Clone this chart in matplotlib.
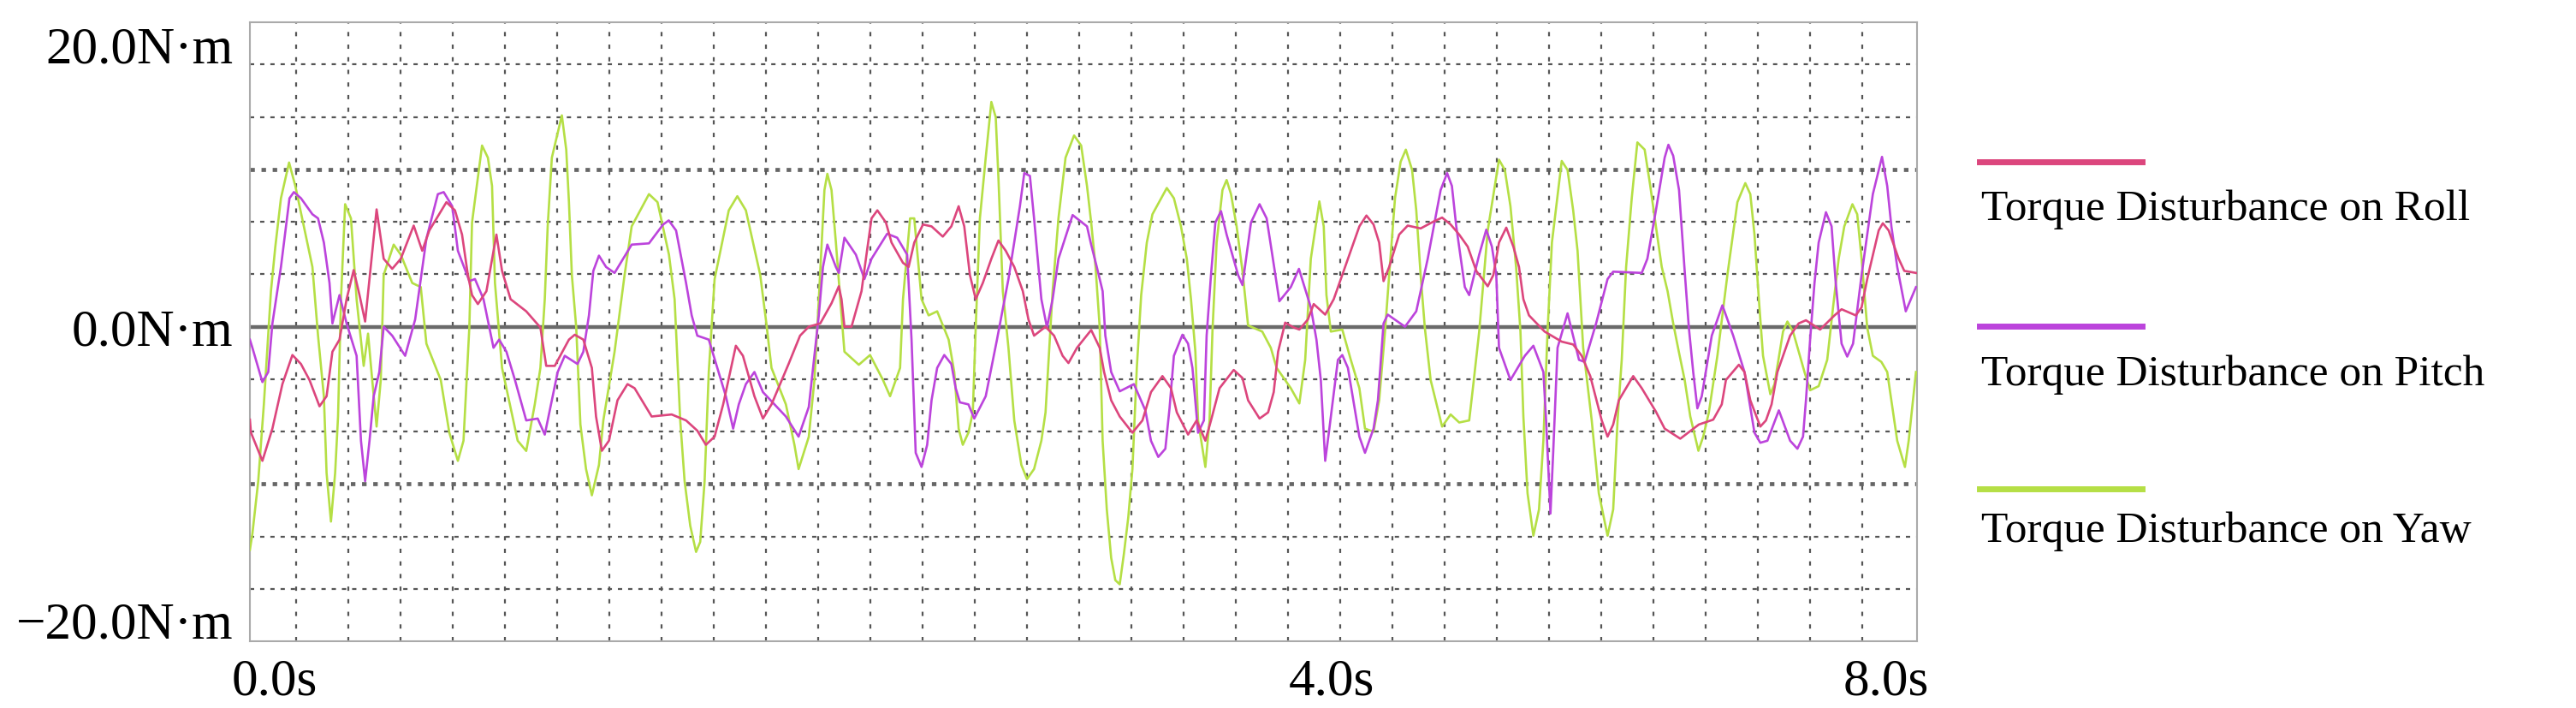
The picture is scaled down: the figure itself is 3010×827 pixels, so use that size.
import numpy as np
import matplotlib.pyplot as plt
from matplotlib.lines import Line2D

plt.rcParams['font.family'] = ['Liberation Serif', 'DejaVu Serif']
plt.rcParams['lines.scale_dashes'] = False

# values (t in s, torque in N*m)
t_roll = [0.0, 0.005, 0.060, 0.108, 0.156, 0.204, 0.245, 0.286, 0.334, 0.368, 0.396, 0.430, 0.464, 0.498,
          0.526, 0.553, 0.574, 0.608, 0.642, 0.683, 0.724, 0.786, 0.827, 0.861, 0.943, 0.984, 1.018, 1.046,
          1.066, 1.094, 1.135, 1.183, 1.210, 1.251, 1.326, 1.394, 1.422, 1.463, 1.531, 1.559, 1.600, 1.641,
          1.661, 1.689, 1.723, 1.764, 1.812, 1.846, 1.928, 2.024, 2.093, 2.147, 2.188, 2.230, 2.271, 2.332,
          2.366, 2.421, 2.462, 2.503, 2.585, 2.640, 2.682, 2.737, 2.791, 2.826, 2.839, 2.853, 2.887, 2.935,
          2.956, 2.983, 3.011, 3.052, 3.079, 3.134, 3.161, 3.188, 3.230, 3.271, 3.325, 3.366, 3.401, 3.428,
          3.455, 3.483, 3.517, 3.558, 3.592, 3.627, 3.668, 3.709, 3.736, 3.763, 3.818, 3.859, 3.900, 3.928,
          3.969, 4.037, 4.078, 4.099, 4.133, 4.174, 4.235, 4.283, 4.324, 4.379, 4.420, 4.448, 4.502, 4.543,
          4.585, 4.612, 4.653, 4.721, 4.763, 4.790, 4.845, 4.886, 4.913, 4.934, 4.968, 5.009, 5.036, 5.077,
          5.105, 5.160, 5.201, 5.242, 5.283, 5.324, 5.358, 5.392, 5.419, 5.440, 5.467, 5.515, 5.556, 5.618,
          5.679, 5.721, 5.762, 5.803, 5.844, 5.885, 5.940, 5.967, 5.994, 6.029, 6.063, 6.090, 6.111, 6.138,
          6.213, 6.295, 6.350, 6.391, 6.432, 6.487, 6.515, 6.542, 6.569, 6.638, 6.679, 6.747, 6.789, 6.864,
          6.953, 7.022, 7.063, 7.083, 7.145, 7.172, 7.200, 7.248, 7.275, 7.302, 7.330, 7.391, 7.432, 7.467,
          7.535, 7.604, 7.638, 7.706, 7.734, 7.761, 7.816, 7.836, 7.864, 7.912, 7.939, 7.995]
roll = [-5.91, -6.73, -8.53, -6.48, -3.65, -1.80, -2.37, -3.39, -5.06, -4.42, -1.59, -0.82, 1.75, 3.60,
        2.01, 0.33, 3.03, 7.46, 4.32, 3.68, 4.32, 6.43, 4.83, 6.12, 7.92, 7.40, 5.86, 3.29,
        2.01, 1.44, 2.26, 5.86, 3.55, 1.75, 0.98, -0.05, -2.49, -2.49, -0.82, -0.51, -0.82, -2.62,
        -5.71, -7.89, -7.25, -4.68, -3.65, -3.91, -5.71, -5.58, -5.96, -6.61, -7.51, -6.99, -4.94, -1.21,
        -1.85, -4.42, -5.84, -4.94, -2.37, -0.57, 0.0, 0.21, 1.49, 2.57, 1.75, 0.0, 0.0, 2.26,
        4.32, 6.89, 7.40, 6.63, 5.35, 4.06, 3.80, 5.35, 6.50, 6.38, 5.73, 6.38, 7.66, 6.38,
        3.29, 1.75, 2.78, 4.32, 5.48, 4.83, 3.80, 2.26, 0.46, -0.57, 0.0, -0.57, -1.85, -2.31,
        -1.34, -0.21, -1.34, -2.88, -4.68, -5.71, -6.74, -5.96, -4.16, -3.14, -3.91, -5.45, -6.86, -5.96,
        -7.25, -5.96, -3.91, -2.75, -3.26, -4.68, -5.84, -5.45, -4.16, -1.59, 0.26, -0.05, -0.18, 0.46,
        1.44, 0.77, 1.75, 3.29, 4.83, 6.38, 7.07, 6.50, 5.35, 2.90, 3.80, 5.86, 6.43, 6.25,
        6.68, 6.94, 6.50, 5.86, 5.09, 3.55, 2.57, 3.29, 5.35, 6.30, 5.09, 3.80, 1.75, 0.72,
        -0.31, -0.95, -1.13, -1.85, -3.14, -5.96, -6.99, -6.22, -4.68, -3.14, -3.91, -5.40, -6.48, -7.12,
        -6.22, -5.91, -4.94, -3.39, -2.42, -2.88, -4.68, -6.35, -5.96, -4.94, -2.88, -0.57, 0.21, 0.41,
        -0.18, 0.72, 1.11, 0.72, 1.23, 3.03, 6.12, 6.58, 6.12, 4.32, 3.55, 3.42]

t_pitch = [0.0, 0.012, 0.060, 0.088, 0.108, 0.149, 0.190, 0.211, 0.245, 0.300, 0.327, 0.355, 0.382, 0.396,
           0.430, 0.464, 0.512, 0.533, 0.553, 0.574, 0.594, 0.621, 0.642, 0.683, 0.745, 0.793, 0.847, 0.902,
           0.930, 0.971, 0.998, 1.053, 1.080, 1.121, 1.169, 1.196, 1.231, 1.272, 1.326, 1.381, 1.415, 1.449,
           1.477, 1.511, 1.572, 1.600, 1.627, 1.648, 1.675, 1.709, 1.750, 1.832, 1.915, 1.983, 2.010, 2.045,
           2.093, 2.120, 2.147, 2.202, 2.284, 2.319, 2.346, 2.380, 2.421, 2.462, 2.572, 2.633, 2.682, 2.696,
           2.730, 2.750, 2.771, 2.812, 2.826, 2.853, 2.908, 2.949, 2.983, 3.058, 3.106, 3.154, 3.175, 3.195,
           3.223, 3.250, 3.271, 3.298, 3.332, 3.366, 3.387, 3.407, 3.448, 3.476, 3.531, 3.585, 3.640, 3.695,
           3.716, 3.743, 3.763, 3.798, 3.825, 3.852, 3.880, 3.948, 4.017, 4.037, 4.064, 4.092, 4.105, 4.133,
           4.174, 4.242, 4.297, 4.324, 4.359, 4.393, 4.413, 4.434, 4.475, 4.502, 4.523, 4.550, 4.578, 4.591,
           4.612, 4.633, 4.660, 4.687, 4.742, 4.763, 4.783, 4.804, 4.845, 4.879, 4.906, 4.940, 4.995, 5.034,
           5.091, 5.118, 5.139, 5.160, 5.180, 5.221, 5.242, 5.269, 5.324, 5.351, 5.392, 5.413, 5.440, 5.460,
           5.543, 5.597, 5.652, 5.714, 5.745, 5.768, 5.789, 5.830, 5.851, 5.899, 5.933, 5.960, 5.981, 5.994,
           6.049, 6.118, 6.159, 6.207, 6.220, 6.241, 6.254, 6.275, 6.323, 6.378, 6.405, 6.460, 6.515, 6.542,
           6.679, 6.706, 6.747, 6.789, 6.807, 6.830, 6.858, 6.885, 6.905, 6.926, 6.946, 6.967, 7.015, 7.066,
           7.118, 7.172, 7.220, 7.248, 7.282, 7.337, 7.391, 7.426, 7.453, 7.467, 7.487, 7.508, 7.528, 7.563,
           7.590, 7.610, 7.638, 7.665, 7.693, 7.734, 7.788, 7.832, 7.857, 7.877, 7.905, 7.946, 7.995]
pitch = [-0.82, -1.34, -3.52, -2.88, 0.21, 3.80, 8.17, 8.56, 8.17, 7.15, 6.89, 5.35, 2.78, 0.21,
         2.01, 0.21, -1.85, -7.25, -9.82, -7.25, -4.42, -2.88, 0.0, -0.57, -1.85, 0.46, 5.60, 8.43,
         8.56, 7.66, 4.83, 2.90, 3.03, 1.75, -1.34, -0.82, -1.59, -3.39, -5.96, -5.84, -6.86, -4.68,
         -2.88, -1.85, -2.37, -1.59, 0.72, 3.55, 4.52, 3.80, 3.42, 5.22, 5.30, 6.50, 6.76, 6.12,
         2.78, 0.72, -0.57, -0.82, -4.42, -6.48, -4.94, -3.65, -2.88, -4.16, -5.71, -6.99, -5.10, -3.39,
         0.72, 3.80, 5.22, 3.80, 3.42, 5.66, 4.58, 3.03, 4.32, 5.91, 5.66, 4.58, -0.82, -8.02,
         -8.92, -7.51, -4.68, -2.62, -1.80, -2.37, -3.91, -4.81, -4.94, -5.84, -4.42, -0.82, 3.03, 7.66,
         9.77, 9.59, 6.89, 1.75, -0.05, 1.75, 4.32, 7.10, 6.38, 5.22, 3.80, 2.26, -0.57, -2.88,
         -4.11, -3.65, -5.32, -7.25, -8.28, -7.76, -5.19, -1.85, -0.51, -1.08, -2.62, -6.74, -5.96, -0.57,
         3.29, 6.63, 7.35, 5.86, 3.29, 2.65, 4.58, 6.63, 7.79, 6.89, 4.58, 1.62, 2.52, 3.68,
         1.23, -0.82, -3.39, -8.53, -6.48, -2.11, -1.80, -2.62, -6.99, -8.02, -6.48, -4.68, 0.21, 0.77,
         0.0, 0.98, 4.32, 8.69, 9.77, 8.95, 6.38, 2.52, 2.01, 4.58, 6.17, 5.09, 3.29, -1.34,
         -3.39, -1.85, -1.21, -2.88, -5.96, -11.88, -8.02, -1.34, 0.85, -2.11, -2.24, 0.21, 3.03, 3.50,
         3.42, 4.32, 7.40, 10.75, 11.57, 10.87, 8.69, 3.55, -0.05, -2.88, -5.19, -4.42, -0.57, 1.36,
         -0.57, -2.88, -6.74, -7.38, -7.25, -5.32, -7.25, -7.76, -6.99, -4.68, -0.82, 2.78, 5.35, 7.28,
         6.38, 2.78, -1.08, -1.90, -1.08, 3.29, 8.43, 10.80, 8.95, 6.38, 3.80, 0.98, 2.52]

t_yaw = [0.0, 0.012, 0.040, 0.067, 0.101, 0.122, 0.149, 0.188, 0.218, 0.259, 0.300, 0.327, 0.355, 0.368,
         0.389, 0.409, 0.423, 0.437, 0.457, 0.485, 0.512, 0.546, 0.567, 0.587, 0.608, 0.628, 0.642, 0.690,
         0.724, 0.779, 0.820, 0.847, 0.916, 0.957, 0.998, 1.025, 1.053, 1.066, 1.114, 1.142, 1.162, 1.176,
         1.210, 1.285, 1.326, 1.367, 1.394, 1.415, 1.429, 1.449, 1.497, 1.518, 1.531, 1.545, 1.566, 1.586,
         1.613, 1.641, 1.675, 1.696, 1.750, 1.798, 1.832, 1.915, 1.956, 2.011, 2.038, 2.065, 2.086, 2.113,
         2.141, 2.161, 2.182, 2.202, 2.230, 2.298, 2.339, 2.380, 2.449, 2.476, 2.503, 2.572, 2.613, 2.633,
         2.682, 2.709, 2.730, 2.757, 2.771, 2.791, 2.812, 2.833, 2.853, 2.922, 2.976, 3.038, 3.072, 3.120,
         3.134, 3.168, 3.188, 3.223, 3.257, 3.298, 3.353, 3.380, 3.401, 3.421, 3.448, 3.469, 3.483, 3.503,
         3.531, 3.558, 3.579, 3.592, 3.613, 3.640, 3.668, 3.702, 3.729, 3.763, 3.798, 3.818, 3.852, 3.880,
         3.914, 3.955, 3.989, 4.017, 4.037, 4.058, 4.078, 4.092, 4.112, 4.133, 4.153, 4.174, 4.194, 4.215,
         4.235, 4.256, 4.277, 4.304, 4.331, 4.400, 4.434, 4.468, 4.496, 4.516, 4.537, 4.550, 4.585, 4.605,
         4.619, 4.639, 4.667, 4.687, 4.708, 4.735, 4.763, 4.790, 4.858, 4.899, 4.927, 4.995, 5.036, 5.064,
         5.091, 5.132, 5.153, 5.166, 5.187, 5.242, 5.283, 5.324, 5.351, 5.392, 5.419, 5.447, 5.467, 5.495,
         5.522, 5.547, 5.577, 5.597, 5.618, 5.638, 5.666, 5.721, 5.762, 5.803, 5.851, 5.871, 5.899, 5.940,
         5.994, 6.022, 6.049, 6.076, 6.097, 6.111, 6.131, 6.159, 6.186, 6.207, 6.227, 6.248, 6.295, 6.323,
         6.350, 6.371, 6.398, 6.439, 6.473, 6.515, 6.542, 6.563, 6.583, 6.604, 6.631, 6.658, 6.693, 6.720,
         6.747, 6.775, 6.803, 6.830, 6.857, 6.885, 6.912, 6.951, 6.974, 7.001, 7.042, 7.090, 7.138, 7.176,
         7.200, 7.220, 7.241, 7.261, 7.296, 7.316, 7.357, 7.378, 7.405, 7.460, 7.487, 7.528, 7.569, 7.597,
         7.624, 7.651, 7.690, 7.713, 7.734, 7.761, 7.788, 7.829, 7.857, 7.905, 7.942, 7.960, 7.995]
yaw = [-14.19, -13.16, -9.82, -4.94, 2.26, 5.09, 8.17, 10.44, 8.95, 6.38, 3.80, -0.57, -4.42, -9.31,
       -12.39, -9.31, -5.71, 1.75, 7.79, 6.89, 1.75, -2.49, -0.44, -3.39, -6.35, -3.39, 3.29, 5.22,
       4.58, 2.78, 2.52, -1.08, -3.39, -6.74, -8.53, -7.25, -0.05, 6.63, 11.52, 10.75, 8.95, 2.78,
       -2.62, -7.25, -7.90, -4.94, -2.62, 1.75, 6.38, 10.75, 13.44, 11.26, 7.92, 3.29, -0.05, -6.22,
       -9.05, -10.72, -8.79, -5.96, -1.59, 3.29, 6.38, 8.43, 7.92, 4.58, 1.75, -5.96, -9.82, -12.65,
       -14.32, -13.68, -9.82, -2.88, 3.03, 7.40, 8.30, 7.40, 3.29, 0.46, -2.62, -4.94, -7.51, -9.05,
       -7.00, -3.39, 1.75, 8.69, 9.72, 8.69, 5.35, 1.75, -1.59, -2.42, -1.80, -3.39, -4.42, -2.62,
       1.75, 6.89, 6.89, 1.75, 0.72, 0.98, -0.82, -2.88, -6.48, -7.51, -6.74, -5.45, -0.05, 6.89,
       10.75, 14.29, 13.32, 9.46, 2.26, -1.34, -5.96, -8.79, -9.69, -9.05, -7.25, -5.45, 2.26, 6.89,
       10.75, 12.16, 11.52, 8.95, 6.63, 3.80, -0.05, -7.25, -11.62, -14.70, -16.12, -16.38, -14.45, -12.13,
       -9.05, -2.62, 2.01, 5.35, 7.15, 8.82, 8.17, 6.38, 4.32, 1.75, -1.59, -5.96, -8.92, -5.96,
       -0.31, 5.35, 8.69, 9.33, 8.43, 6.38, 3.55, 0.08, -0.31, -1.34, -2.62, -3.91, -4.88, -2.11,
       4.32, 7.97, 6.38, 2.01, -0.31, -0.18, -2.11, -3.91, -6.48, -6.68, -4.68, -0.31, 3.29, 8.17,
       10.49, 11.26, 9.97, 7.40, 3.29, -0.05, -3.39, -6.35, -5.58, -6.09, -5.96, -3.65, -0.31, 6.12,
       10.62, 9.97, 7.66, 3.80, -0.31, -5.71, -10.59, -13.29, -11.62, -7.25, -0.31, 5.35, 10.54, 9.97,
       7.40, 4.83, -1.34, -5.96, -10.59, -13.29, -11.62, -5.96, -2.11, 3.80, 8.17, 11.72, 11.26, 8.95,
       6.38, 3.80, 2.26, 0.21, -1.59, -3.39, -5.71, -7.89, -6.99, -5.45, -1.85, 3.29, 7.92, 9.13,
       8.43, 5.86, 1.75, -1.85, -4.29, -3.65, -0.31, 0.33, -0.31, -2.88, -4.04, -3.78, -2.11, 1.23,
       4.32, 6.38, 7.79, 7.15, 4.32, -0.05, -1.85, -2.24, -2.88, -7.25, -8.92, -7.25, -2.88]

series_names = ["Torque Disturbance on Roll", "Torque Disturbance on Pitch", "Torque Disturbance on Yaw"]
series_colors = ['#DC467D', '#BC44DC', '#B5DF45']

ytick_values = [18.0, 0.0, -18.6]
ytick_labels = ["20.0N\u00b7m", "0.0N\u00b7m", "\u221220.0N\u00b7m"]
xtick_values = [0.12, 5.19, 7.85]
xtick_labels = ["0.0s", "4.0s", "8.0s"]

W, H = 3010, 828
fig = plt.figure(figsize=(W / 100, H / 100), dpi=100)
ax = fig.add_axes([292 / W, 1 - 750 / H, (2240 - 292) / W, (750 - 27) / H])
ax.set_xlim(0, 8)
ax.set_ylim(-20, 19.36)

# scope style grid
div = 10 / 3
for k in range(-5, 6):
    if k == 0:
        continue
    if abs(k) == 3:
        ax.axhline(k * div, color='#666666', lw=3.4, dashes=(3.8, 5.6), zorder=1)
    else:
        ax.axhline(k * div, color='#555555', lw=1.6, dashes=(3.6, 5.0), zorder=1)
for x in np.arange(0.222, 7.9, 0.2505):
    ax.axvline(x, color='#555555', lw=1.6, dashes=(3.6, 7.0), zorder=1)
ax.axhline(0, color='#6a6a6a', lw=3.2, zorder=2)

data = [(t_roll, roll), (t_pitch, pitch), (t_yaw, yaw)]
for i in [2, 1, 0]:
    t, v = data[i]
    ax.plot(t, v, color=series_colors[i], lw=1.9, zorder=3 + (2 - i))

for s in ax.spines.values():
    s.set_color('#aaaaaa')
    s.set_linewidth(1.5)

ax.set_yticks(ytick_values)
ax.set_yticklabels(ytick_labels)
ax.set_xticks(xtick_values)
ax.set_xticklabels(xtick_labels)
ax.tick_params(axis='both', length=0, labelsize=44)
ax.tick_params(axis='y', pad=14)
ax.tick_params(axis='x', pad=14)

# legend: line above each label
line_y = [190, 382, 572]
text_y = [257, 450, 633]
for i in range(3):
    fig.add_artist(Line2D([2313 / W, 2503 / W], [1 - line_y[i] / H, 1 - line_y[i] / H],
                          color=series_colors[i], lw=5))
    fig.text(2315 / W, 1 - text_y[i] / H, series_names[i], fontsize=37, va='baseline', ha='left')

fig.savefig("out.png", dpi=100)
